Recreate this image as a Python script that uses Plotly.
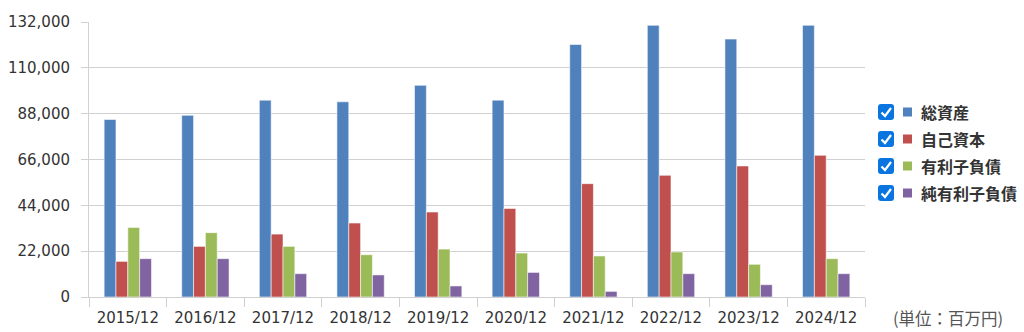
import plotly.graph_objects as go

categories = ["2015/12", "2016/12", "2017/12", "2018/12", "2019/12",
              "2020/12", "2021/12", "2022/12", "2023/12", "2024/12"]
total_assets = [85200, 87200, 94500, 93700, 101600, 94500, 121200, 130400, 123800, 130400]
equity = [17100, 24300, 30200, 35500, 40800, 42500, 54400, 58400, 62900, 68000]
interest_debt = [33400, 30900, 24300, 20300, 23000, 21100, 19700, 21600, 15700, 18400]
net_interest_debt = [18400, 18400, 11200, 10600, 5300, 11800, 2700, 11200, 5900, 11200]

series_names = ["総資産", "自己資本", "有利子負債", "純有利子負債"]
series_values = [total_assets, equity, interest_debt, net_interest_debt]
colors = ["#4f81bd", "#c0504d", "#9bbb59", "#8064a2"]
y_ticks = [0, 22000, 44000, 66000, 88000, 110000, 132000]

# layout in pixels
L, R, T, B = 89, 159, 22, 35
W_PX, H_PX = 1024, 332
PW = W_PX - L - R
PH = H_PX - T - B


def px(x):
    return (x - L) / PW


def py(y):
    return (H_PX - B - y) / PH


fig = go.Figure()
for name, vals, col in zip(series_names, series_values, colors):
    fig.add_trace(go.Bar(
        x=categories, y=vals, name=name,
        marker=dict(color=col, line=dict(color="rgba(255,255,255,0.55)", width=1)),
        showlegend=False,
    ))

fig.update_layout(
    width=W_PX, height=H_PX,
    margin=dict(l=L, r=R, t=T, b=B, pad=0, autoexpand=False),
    paper_bgcolor="white", plot_bgcolor="white",
    barmode="group", bargap=0.39, bargroupgap=0,
    font=dict(family="DejaVu Sans", size=15, color="#333333"),
)
fig.update_xaxes(
    automargin=False,
    showgrid=False, showline=True, linecolor="#d0d0d0", linewidth=1,
    ticks="outside", tickson="boundaries", ticklen=9, tickcolor="#d0d0d0",
    ticklabelstandoff=7,
    tickfont=dict(family="DejaVu Sans", size=15, color="#333333"),
    fixedrange=True,
)
fig.update_yaxes(
    automargin=False,
    range=[0, 132000], tickvals=y_ticks, tickformat=",",
    showgrid=True, gridcolor="#d0d0d0", gridwidth=1.2,
    showline=True, linecolor="#d0d0d0", linewidth=1,
    ticks="outside", ticklen=7, tickcolor="#d0d0d0",
    ticklabelstandoff=8,
    tickfont=dict(family="DejaVu Sans", size=15, color="#333333"),
    zeroline=False, fixedrange=True,
)

# custom legend with checkboxes
shapes = []
annotations = []
row_centers = [112, 139, 166, 193]
for name, col, cy in zip(series_names, colors, row_centers):
    x0, x1 = 878, 894
    y0, y1 = cy - 8, cy + 8
    r = 3
    path = (f"M {px(x0 + r)},{py(y0)} L {px(x1 - r)},{py(y0)} "
            f"Q {px(x1)},{py(y0)} {px(x1)},{py(y0 + r)} "
            f"L {px(x1)},{py(y1 - r)} Q {px(x1)},{py(y1)} {px(x1 - r)},{py(y1)} "
            f"L {px(x0 + r)},{py(y1)} Q {px(x0)},{py(y1)} {px(x0)},{py(y1 - r)} "
            f"L {px(x0)},{py(y0 + r)} Q {px(x0)},{py(y0)} {px(x0 + r)},{py(y0)} Z")
    shapes.append(dict(type="path", xref="paper", yref="paper", path=path,
                       fillcolor="#0a75e0", line=dict(width=0)))
    check = (f"M {px(881.5)},{py(cy + 0.5)} L {px(885)},{py(cy + 4)} "
             f"L {px(891)},{py(cy - 4)}")
    shapes.append(dict(type="path", xref="paper", yref="paper", path=check,
                       line=dict(color="white", width=2.2)))
    shapes.append(dict(type="rect", xref="paper", yref="paper",
                       x0=px(903), x1=px(912), y0=py(cy + 4.5), y1=py(cy - 4.5),
                       fillcolor=col, line=dict(width=0)))
    annotations.append(dict(
        xref="paper", yref="paper", x=px(919), y=py(cy),
        text=f"<b>{name}</b>", showarrow=False, xanchor="left", yanchor="middle",
        font=dict(family="Noto Sans CJK JP", size=16, color="#333333"),
    ))

annotations.append(dict(
    xref="paper", yref="paper", x=px(891), y=py(318),
    text="(単位：百万円)", showarrow=False, xanchor="left", yanchor="middle",
    font=dict(family="Noto Sans CJK JP", size=16.5, color="#555555"),
))

fig.update_layout(shapes=shapes, annotations=annotations)
fig.write_html("out.html", config={"displayModeBar": False})
